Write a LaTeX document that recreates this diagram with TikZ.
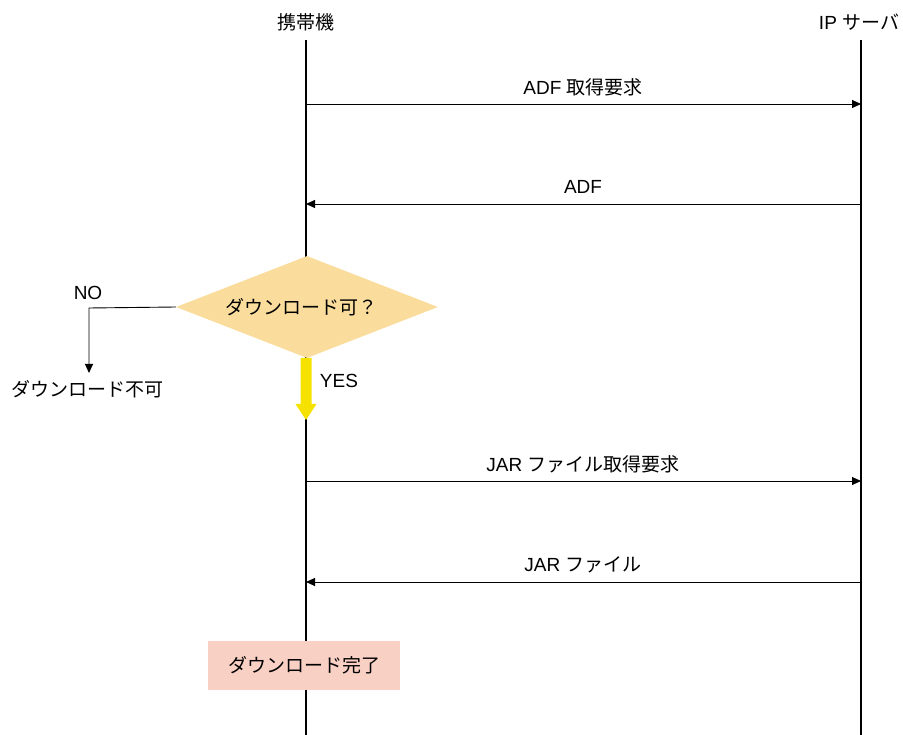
\documentclass[tikz,border=0pt]{standalone}
\usepackage{fontspec}
\setmainfont{Liberation Sans}
\newfontfamily\jp{Noto Sans CJK JP}
\usetikzlibrary{arrows.meta,shapes.geometric}
\definecolor{diafill}{HTML}{FADD9C}
\definecolor{donefill}{HTML}{F9D0C4}
\definecolor{yesyellow}{HTML}{F5E200}
\tikzset{
  lbl/.style={font=\fontsize{19}{22}\selectfont, inner sep=0pt},
  life/.style={line width=1.5pt, black},
  msg/.style={line width=0.9pt, black, -{Triangle[length=9pt,width=8pt]}},
}
\begin{document}
\begin{tikzpicture}[x=1pt,y=-1pt]
\useasboundingbox (0,0) rectangle (903,735);
% lifelines
\coordinate (Ltop) at (306,40);
\coordinate (Lbot) at (306,735);
\coordinate (Rtop) at (861,40);
\coordinate (Rbot) at (861,735);
\draw[life] (Ltop) -- (Lbot);
\draw[life] (Rtop) -- (Rbot);
\node[lbl] (mob) at (306,22) {\jp 携帯機};
\node[lbl] (srv) at (859,22) {IP {\jp サーバ}};
% messages
\coordinate (m1a) at (306,104); \coordinate (m1b) at (861,104);
\draw[msg] (m1a) -- (m1b);
\node[lbl] (t1) at (583,87) {ADF {\jp 取得要求}};
\coordinate (m2a) at (861,204); \coordinate (m2b) at (306,204);
\draw[msg] (m2a) -- (m2b);
\node[lbl] (t2) at (583,187) {ADF};
\coordinate (m3a) at (306,481); \coordinate (m3b) at (861,481);
\draw[msg] (m3a) -- (m3b);
\node[lbl] (t3) at (583,464) {JAR {\jp ファイル取得要求}};
\coordinate (m4a) at (861,582); \coordinate (m4b) at (306,582);
\draw[msg] (m4a) -- (m4b);
\node[lbl] (t4) at (583,565) {JAR {\jp ファイル}};
% decision
\node[diamond, fill=diafill, draw=none, minimum width=262pt, minimum height=102pt, inner sep=0pt, aspect=2.57, lbl] (dec) at (307,307) {};
\node[lbl] (dect) at (301,307) {\jp ダウンロード可？};
% NO branch
\coordinate (nocorner) at (89,308);
\coordinate (notip) at (89,373);
\node[lbl] (nolbl) at (88,293) {NO};
\node[lbl] (ng) at (88,389) {\jp ダウンロード不可};
\draw[line width=0.9pt, -{Triangle[length=9pt,width=8pt]}] (dec.west) -- (nocorner) -- (notip);
% YES arrow
\fill[yesyellow] (300.5,358) -- (311.5,358) -- (311.5,404) -- (316.5,404) -- (306,420) -- (295.5,404) -- (300.5,404) -- cycle;
\node[lbl] (yes) at (339,381) {YES};
% done box
\node[lbl, fill=donefill, minimum width=192pt, minimum height=49pt] (done) at (304,665.5) {\jp ダウンロード完了};
\end{tikzpicture}
\end{document}
